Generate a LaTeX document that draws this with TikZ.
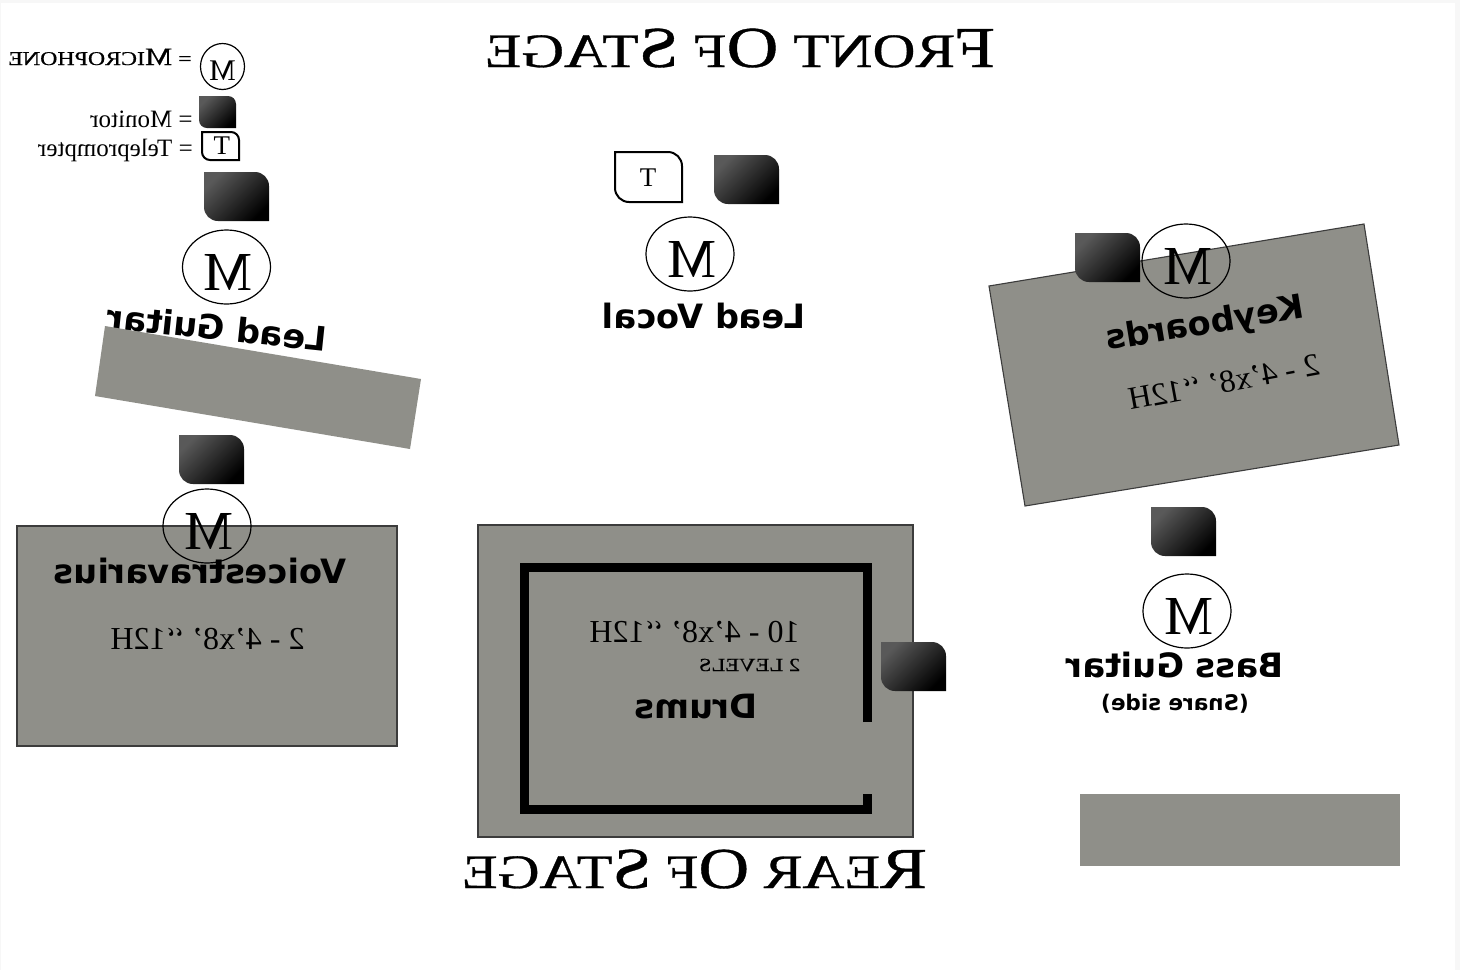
\documentclass[tikz,border=0pt]{standalone}
\usepackage{fontspec}
\setmainfont{Liberation Serif}
\newfontfamily\labelfont{DejaVu Sans}
\newfontfamily\headfont{Liberation Serif}[FakeStretch=1.065,FakeBold=0.6]
\usetikzlibrary{shapes.geometric}
\definecolor{riser}{HTML}{8F8F89}
\definecolor{riseredge}{HTML}{3C3C3C}
\definecolor{pagetint}{HTML}{F7F7F7}
\tikzset{
  mirrored/.style={xscale=-1,inner sep=0pt,anchor=base},
  bandlabel/.style={mirrored,font=\labelfont\bfseries\fontsize{33.5}{33.5}\selectfont},
  sizelabel/.style={mirrored,font=\fontsize{32}{32}\selectfont},
  legendlabel/.style={mirrored,font=\fontsize{25}{25}\selectfont},
  titlelabel/.style={mirrored,font=\headfont\fontsize{48}{48}\selectfont},
  micnode/.style={draw=black,shape=ellipse,xscale=-1,inner sep=0pt,line width=1.2pt,
    minimum width=88pt,minimum height=74pt,text height=46pt,text depth=0pt,font=\fontsize{55}{55}\selectfont},
  legendmic/.style={micnode,minimum width=44pt,minimum height=46pt,text height=28pt,font=\fontsize{30}{30}\selectfont},
  teletext/.style={xscale=-1,inner sep=0pt,font=\fontsize{27}{27}\selectfont},
  riserline/.style={fill=riser,draw=riseredge,line width=1.1pt},
  drumwall/.style={draw=black,line width=9pt,line cap=butt,miter limit=10},
  monitorfill/.style={shading=axis,top color=black!65,bottom color=black,shading angle=45}
}
% x y w h r
\newcommand{\monitorbox}[5]{
  \shade[monitorfill] (#1,#2) [rounded corners=#5pt] -- ++(#3,0) [sharp corners] -- ++(0,#4) [rounded corners=#5pt] -- ++(-#3,0) [sharp corners] -- cycle;
}
\newcommand{\teleprompter}[5]{
  \draw[line width=2pt] (#1,#2) [rounded corners=#5pt] -- ++(#3,0) [sharp corners] -- ++(0,#4) [rounded corners=#5pt] -- ++(-#3,0) [sharp corners] -- cycle;
}
\newcommand{\smallcaps}[2]{{\fontsize{58}{58}\selectfont #1}#2}
\begin{document}
\begin{tikzpicture}[x=1pt,y=-1pt]
  \useasboundingbox (0,0) rectangle (1460,970);
  \fill[pagetint] (0,0) rectangle (1460,970);
  \fill[white] (1,3) rectangle (1455,970);

  % titles
  \node[titlelabel,xscale=1.163] (fronttitle) at (740,67) {\smallcaps{F}{RONT} \smallcaps{O}{F} \smallcaps{S}{TAGE}};
  \node[titlelabel,xscale=1.138] (reartitle) at (694.5,888) {\smallcaps{R}{EAR} \smallcaps{O}{F} \smallcaps{S}{TAGE}};

  % legend
  \node[mirrored,xscale=1.15,font=\headfont\fontsize{19.5}{19.5}\selectfont] (legendmictext) at (100,65) {= {\fontsize{25}{25}\selectfont M}ICROPHONE};
  \node[legendmic] (legendmicnode) at (222.5,66.5) {M};
  \node[legendlabel] (legendmontext) at (141.5,127) {= Monitor};
  \monitorbox{199}{96}{37}{32}{8}
  \node[legendlabel] (legendteletext) at (115.5,156) {= Teleprompter};
  \teleprompter{202}{132}{37}{28}{8}
  \node[teletext] (legendt) at (222,146) {T};

  % lead guitar
  \monitorbox{204}{172}{65}{49}{14}
  \node[micnode] (micguitar) at (226.5,267) {M\kern4pt};
  \node[rotate=-6,bandlabel] (leadguitar) at (216,340) {Lead Guitar};
  \fill[riser] (105,326) -- (421,379) -- (410,449) -- (95,396) -- cycle;

  % lead vocal
  \teleprompter{615}{152}{67}{50}{14}
  \node[teletext] (vocalt) at (648,178) {T};
  \monitorbox{714}{155}{65}{49}{14}
  \node[micnode] (micvocal) at (690,254) {M\kern4pt};
  \node[bandlabel] (leadvocal) at (704,328) {Lead Vocal};

  % keyboards
  \draw[riserline] (989,286) -- (1364,224) -- (1399,445) -- (1025,506) -- cycle;
  \monitorbox{1075}{233}{65}{49}{14}
  \node[micnode] (mickeys) at (1186,261) {M\kern4pt};
  \node[rotate=9.3,bandlabel] (keyboards) at (1206.5,334) {Keyboards};
  \node[rotate=10.5,sizelabel] (keyssize) at (1226,392.5) {2 - 4’x8’ ‘‘12H};

  % bass guitar
  \monitorbox{1151}{507}{65}{49}{14}
  \node[micnode] (micbass) at (1187,611) {M\kern4pt};
  \node[bandlabel] (bassguitar) at (1175,677) {Bass Guitar};
  \node[mirrored,font=\labelfont\bfseries\fontsize{21.5}{21.5}\selectfont] (snareside) at (1175,710) {(Snare side)};
  \fill[riser] (1080,794) rectangle (1400,866);

  % voicestravarius
  \draw[riserline] (17,526) rectangle (397,746);
  \monitorbox{179}{435}{65}{49}{14}
  \node[micnode] (micvoices) at (207,526) {M\kern4pt};
  \node[bandlabel] (voices) at (200,583) {Voicestravarius};
  \node[sizelabel] (voicessize) at (207.5,649) {2 - 4’x8’ ‘‘12H};

  % drums
  \draw[riserline] (478,525) rectangle (913,837);
  \draw[drumwall] (867.5,722) -- (867.5,567.5) -- (524.5,567.5) -- (524.5,809.5) -- (867.5,809.5) -- (867.5,794);
  \monitorbox{881}{642}{65}{49}{14}
  \node[sizelabel] (drumsize) at (694.5,642) {10 - 4’x8’ ‘‘12H};
  \node[mirrored,xscale=1.15,font=\headfont\fontsize{18.5}{18.5}\selectfont] (drumlevels) at (749.5,671) {2 LEVELS};
  \node[bandlabel] (drums) at (696,718) {Drums};
\end{tikzpicture}
\end{document}
